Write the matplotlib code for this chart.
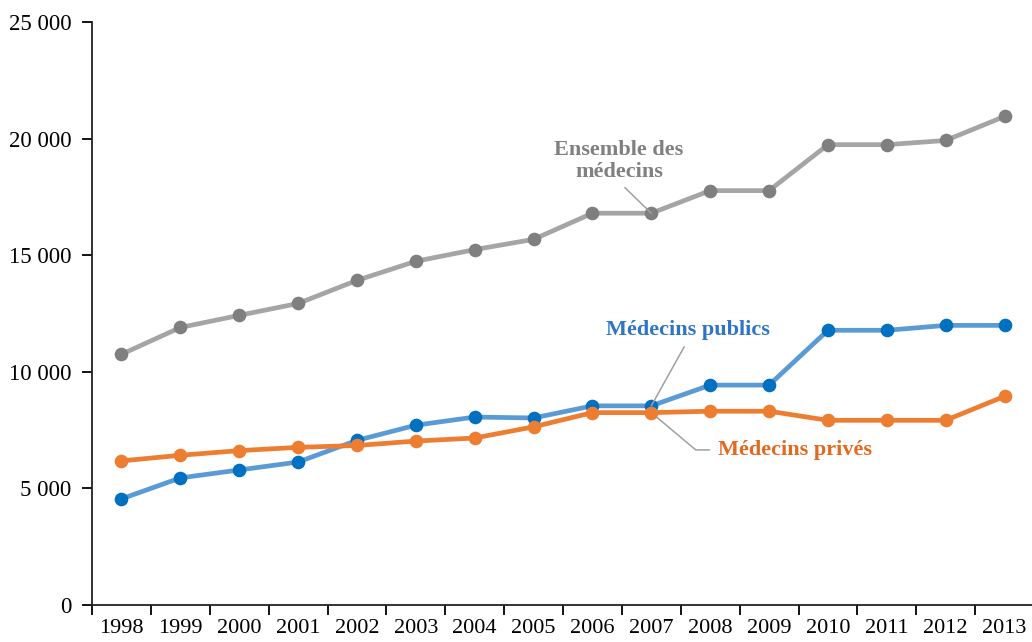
import matplotlib
matplotlib.use("Agg")
import matplotlib.pyplot as plt
import matplotlib.ticker as mticker
import numpy as np

years = [str(y) for y in range(1998, 2014)]
ensemble = [10750, 11900, 12420, 12930, 13920, 14740, 15240, 15680,
            16800, 16800, 17770, 17770, 19740, 19740, 19920, 20950]
publics = [4550, 5450, 5790, 6130, 7060, 7710, 8060, 8020,
           8540, 8540, 9430, 9430, 11780, 11780, 11990, 11990]
prives = [6180, 6420, 6620, 6760, 6840, 7030, 7160, 7640,
          8250, 8250, 8310, 8310, 7920, 7920, 7920, 8950]

plt.rcParams['font.family'] = ['Liberation Serif', 'DejaVu Serif']

fig = plt.figure(figsize=(10.32, 6.42), dpi=100)
ax = fig.add_axes([92 / 1032, 37 / 642, 942 / 1032, 583 / 642])

x = np.arange(len(years))
ax.plot(x, ensemble, color='#a5a5a5', lw=3.4, marker='o', ms=8.8,
        mfc='#7f7f7f', mec='#7f7f7f', zorder=3)
ax.plot(x, publics, color='#5b9bd5', lw=3.4, marker='o', ms=8.8,
        mfc='#0070c0', mec='#0070c0', zorder=3)
ax.plot(x, prives, color='#ed7d31', lw=3.4, marker='o', ms=8.8,
        mfc='#ed7d31', mec='#ed7d31', zorder=4)

ax.set_xlim(-0.5, len(years) - 0.5)
ax.set_ylim(0, 25000)
ax.yaxis.set_major_locator(mticker.MultipleLocator(5000))
ax.yaxis.set_major_formatter(mticker.FuncFormatter(
    lambda v, p: '{:,}'.format(int(v)).replace(',', ' ')))

ax.set_xticks(x)
ax.set_xticklabels(years)
ax.set_xticks(np.arange(-0.5, len(years)), minor=True)
ax.tick_params(axis='x', which='major', length=0, pad=10, labelsize=16)
ax.tick_params(axis='x', which='minor', length=7, width=1.3, direction='out')
ax.tick_params(axis='y', length=7, width=1.3, pad=8, labelsize=16.5)

for s in ['top', 'right']:
    ax.spines[s].set_visible(False)
for s in ['left', 'bottom']:
    ax.spines[s].set_linewidth(1.3)
    ax.spines[s].set_color('#222222')

lead = dict(arrowstyle='-', color='#a0a0a0', lw=1.1, shrinkA=3, shrinkB=0,
            relpos=(0.5, 0))
i07 = years.index('2007')
ax.annotate('Ensemble des\nmédecins', xy=(i07, ensemble[i07]), xytext=(8.45, 19050),
            ha='center', va='center', fontsize=16, fontweight='bold',
            color='#808080', linespacing=1.15, arrowprops=lead)
ax.annotate('Médecins publics', xy=(i07, publics[i07]), xytext=(9.62, 11780),
            ha='center', va='center', fontsize=16, fontweight='bold',
            color='#2e75c6', arrowprops=lead)
lead2 = dict(arrowstyle='-', color='#a0a0a0', lw=1.1, shrinkA=4, shrinkB=0,
             relpos=(0, 0.5), connectionstyle='angle,angleA=0,angleB=-40,rad=0')
ax.annotate('Médecins privés', xy=(i07, prives[i07]), xytext=(10.13, 6650),
            ha='left', va='center', fontsize=16, fontweight='bold',
            color='#e2691e', arrowprops=lead2)

fig.savefig('out.png', dpi=100)
